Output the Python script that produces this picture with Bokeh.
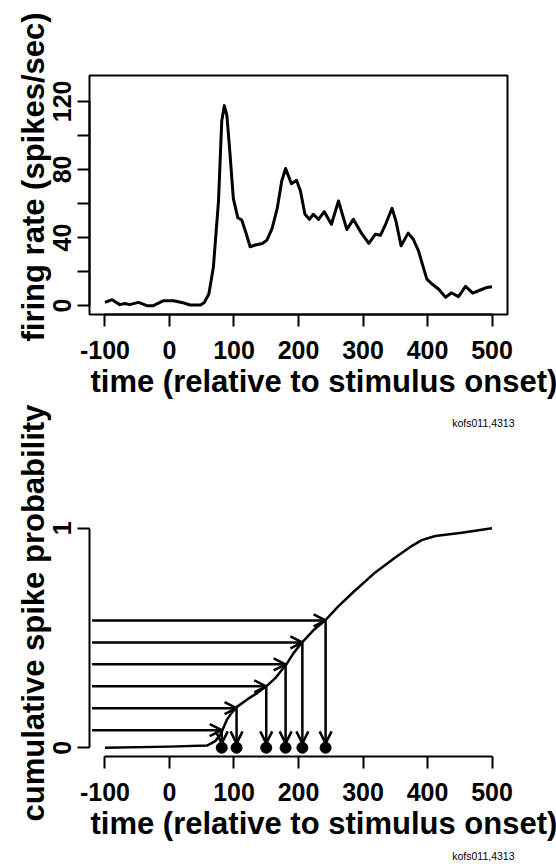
from bokeh.plotting import figure
from bokeh.models import Range1d, FixedTicker, Title, Arrow, OpenHead, ColumnDataSource
from bokeh.layouts import column
from bokeh.embed import file_html
from bokeh.resources import INLINE

# ---------------- data ----------------
# firing rate (spikes/sec) vs time (ms relative to stimulus onset)
rate_time = [-100, -89, -77, -69, -62, -48, -35, -25, -9, 6,
             19, 32, 48, 54, 61, 68, 76, 81, 85, 89,
             94, 99, 106, 112, 118, 125, 133, 144, 151, 159,
             167, 174, 180, 189, 197, 203, 210, 217, 223, 231,
             240, 251, 262, 275, 285, 297, 309, 319, 327, 335,
             345, 351, 359, 370, 378, 386, 392, 399, 407, 417,
             428, 437, 448, 459, 470, 482, 492, 500]
rate_value = [1.9, 3.5, 0.6, 1.3, 0.6, 1.9, 0.0, 0.0, 2.9, 2.9,
              1.9, 0.4, 0.4, 1.9, 6.8, 22.4, 61.5, 108.4, 117.5, 111.7,
              88.3, 62.9, 51.6, 50.3, 43.4, 34.6, 35.6, 36.5, 38.5, 45.3,
              57.1, 73.2, 80.6, 71.6, 73.6, 67.3, 53.7, 50.7, 53.7, 50.7,
              55.2, 47.8, 61.5, 44.7, 50.7, 42.9, 36.6, 41.9, 41.3, 47.8,
              57.2, 49.8, 35.2, 42.6, 39.0, 32.2, 24.4, 15.6, 12.7, 9.8,
              4.9, 7.6, 5.3, 11.3, 7.4, 9.2, 10.7, 11.1]

# cumulative spike probability vs time
cum_time = [-100, 0, 58, 71, 79, 82, 89, 97, 104, 120,
            136, 151, 164, 174, 182, 192, 205, 223, 242, 262,
            286, 319, 350, 376, 391, 412, 453, 500]
cum_prob = [0.0, 0.005, 0.01, 0.03, 0.06, 0.08, 0.128, 0.161, 0.185, 0.219,
            0.249, 0.282, 0.317, 0.354, 0.383, 0.43, 0.478, 0.535, 0.582, 0.645,
            0.712, 0.799, 0.867, 0.92, 0.946, 0.965, 0.98, 1.0]

# sampled uniform levels and the spike times they map to
sample_levels = [0.08, 0.18, 0.28, 0.38, 0.48, 0.58]
spike_times = [81, 104, 150, 180, 206, 242]
arrow_start_time = -120
arrow_tip_prob = 0.02

x_ticks = [-100, 0, 100, 200, 300, 400, 500]
rate_ticks = [0, 40, 80, 120]
rate_minor_ticks = [20, 60, 100]
prob_ticks = [0, 1]

x_title = "time (relative to stimulus onset)"
rate_title = "firing rate (spikes/sec)"
prob_title = "cumulative spike probability"
tag = "kofs011,4313"

FONT = "Liberation Sans"


def style_axes(p):
    for ax in p.axis:
        ax.axis_line_color = "black"
        ax.axis_line_width = 2
        ax.major_tick_line_color = "black"
        ax.major_tick_line_width = 2
        ax.major_tick_out = 12
        ax.major_tick_in = 0
        ax.minor_tick_line_color = None
        ax.major_label_text_font = FONT
        ax.major_label_text_font_style = "bold"
        ax.major_label_text_font_size = "25px"
        ax.major_label_text_color = "black"
    p.xaxis.major_label_standoff = 14
    p.xaxis.major_label_overrides = {t: str(t) for t in x_ticks}
    p.yaxis.major_label_standoff = 6
    p.yaxis.major_label_orientation = "vertical"


def add_titles(p, ytitle, y_offset, tag_standoff):
    p.add_layout(Title(text=x_title, align="left", offset=1, standoff=0,
                       text_font=FONT, text_font_style="bold", text_font_size="31px",
                       text_color="black"), "below")
    p.add_layout(Title(text=tag, align="right", offset=-7, standoff=tag_standoff,
                       text_font=FONT, text_font_style="normal", text_font_size="10.5px",
                       text_color="black"), "below")
    p.add_layout(Title(text=ytitle, align="left", offset=y_offset, standoff=0,
                       text_font=FONT, text_font_style="bold", text_font_size="31px",
                       text_color="black"), "left")


# ---------------- top: firing rate ----------------
TOP_H = 448
p1 = figure(width=556, height=TOP_H, x_range=Range1d(-124, 524), y_range=Range1d(-5.2, 135.2),
            output_backend="svg", toolbar_location=None,
            min_border_left=89, min_border_right=49, min_border_top=75, min_border_bottom=TOP_H - 314)
p1.grid.visible = False
p1.background_fill_color = "white"
p1.border_fill_color = "white"
p1.outline_line_color = "black"
p1.outline_line_width = 2
p1.line(rate_time, rate_value, line_color="black", line_width=3, line_join="round")
p1.xaxis.ticker = FixedTicker(ticks=x_ticks)
p1.xaxis.bounds = (x_ticks[0], x_ticks[-1])
p1.yaxis.ticker = FixedTicker(ticks=rate_ticks, minor_ticks=rate_minor_ticks)
p1.yaxis.bounds = (0, 120)
style_axes(p1)
p1.yaxis.minor_tick_line_color = "black"
p1.yaxis.minor_tick_line_width = 2
p1.yaxis.minor_tick_out = 12
p1.yaxis.minor_tick_in = 0
add_titles(p1, rate_title, -27, 32)

# ---------------- bottom: cumulative probability ----------------
P2_TOP = 404                     # page y where the lower figure starts
OVERLAP = TOP_H - P2_TOP
p2 = figure(width=556, height=868 - P2_TOP, x_range=Range1d(-124, 524), y_range=Range1d(-0.04, 1.04),
            output_backend="svg", toolbar_location=None,
            min_border_left=89, min_border_right=49, min_border_top=519 - P2_TOP, min_border_bottom=111)
p2.margin = (-OVERLAP, 0, 0, 0)
p2.grid.visible = False
p2.background_fill_color = "white"
p2.border_fill_color = None
p2.outline_line_color = None
p2.line(cum_time, cum_prob, line_color="black", line_width=2.5, line_join="round")

n = len(spike_times)
h_src = ColumnDataSource(dict(x0=[arrow_start_time] * n, y0=sample_levels,
                              x1=spike_times, y1=sample_levels))
v_src = ColumnDataSource(dict(x0=spike_times, y0=sample_levels,
                              x1=spike_times, y1=[arrow_tip_prob] * n))
for src in (h_src, v_src):
    p2.add_layout(Arrow(end=OpenHead(size=12, line_width=2.5, line_color="black"),
                        x_start="x0", y_start="y0", x_end="x1", y_end="y1",
                        source=src, line_width=2.5, line_color="black"))
p2.scatter(spike_times, [0] * n, size=11, color="black")

p2.xaxis.ticker = FixedTicker(ticks=x_ticks)
p2.xaxis.bounds = (x_ticks[0], x_ticks[-1])
p2.yaxis.ticker = FixedTicker(ticks=prob_ticks)
p2.yaxis.bounds = (0, 1)
style_axes(p2)
add_titles(p2, prob_title, -65, 14)

layout = column(p1, p2, spacing=0)
open("out.html", "w").write(file_html(layout, INLINE))
